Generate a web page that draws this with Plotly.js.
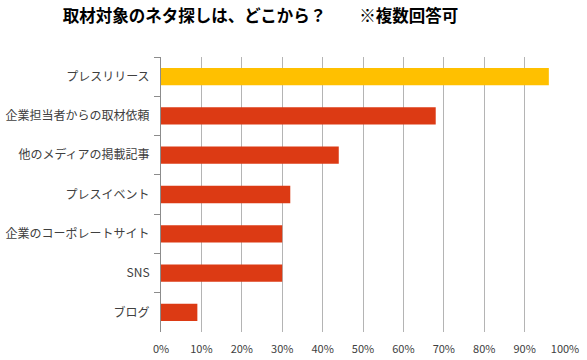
<!DOCTYPE html>
<html><head><meta charset="utf-8">
<script src="https://cdn.plot.ly/plotly-3.0.1.min.js"></script>
<style>body{margin:0;background:#fff}#chart{width:587px;height:360px}</style>
</head><body><div id="chart"></div>
<script>
const categories = ["プレスリリース","企業担当者からの取材依頼","他のメディアの掲載記事","プレスイベント","企業のコーポレートサイト","SNS","ブログ"];
const values = [0.96, 0.68, 0.44, 0.32, 0.30, 0.30, 0.09];
const titleText = "取材対象のネタ探しは、どこから？　　※複数回答可";
const highlightColor = "#FFC000";
const baseColor = "#DC3A14";
const colors = categories.map((c, i) => i === 0 ? highlightColor : baseColor);
const font = "Noto Sans CJK JP, sans-serif";
Plotly.newPlot("chart", [{
  type: "bar", orientation: "h",
  y: categories, x: values,
  marker: {color: colors, line: {width: 0}},
  hoverinfo: "none"
}], {
  width: 587, height: 360,
  margin: {l: 161, r: 22, t: 57, b: 28},
  paper_bgcolor: "#fff", plot_bgcolor: "#fff",
  bargap: 0.56,
  showlegend: false,
  title: {text: "<b>" + titleText + "</b>", x: 0.107, xanchor: "left", y: 0.955, yanchor: "middle",
          font: {family: font, size: 16.5, color: "#000"}},
  xaxis: {range: [0, 1], dtick: 0.1, tickformat: ".0%", showgrid: true, gridcolor: "#b4b4b4", gridwidth: 1,
          zeroline: false, showline: false, ticks: "", fixedrange: true, ticklabelstandoff: 9,
          tickfont: {family: font, size: 11, color: "#404040"}},
  yaxis: {type: "category", autorange: "reversed", showline: true, linecolor: "#8c8c8c", linewidth: 1,
          ticks: "outside", tickson: "boundaries", ticklen: 6, tickcolor: "#8c8c8c", showgrid: false,
          ticklabelstandoff: 8, fixedrange: true,
          tickfont: {family: font, size: 12, color: "#404040"}}
}, {displayModeBar: false, staticPlot: true});
</script></body></html>
